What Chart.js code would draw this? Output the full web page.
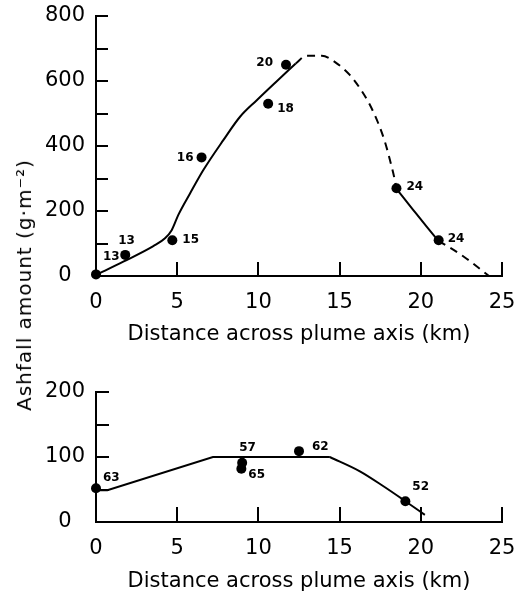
<!DOCTYPE html>
<html>
<head>
<meta charset="utf-8">
<script src="https://cdn.jsdelivr.net/npm/chart.js@4"></script>
<style>
  body { margin: 0; background: #fff; }
  #wrap { position: relative; width: 515px; height: 594px; overflow: hidden; }
  #topChart { position: absolute; left: 0; top: 0; }
  #bottomChart { position: absolute; left: 0; top: 350px; }
  #yTitle {
    position: absolute; left: 24px; top: 285px;
    transform: translate(-50%, -50%) rotate(-90deg);
    white-space: nowrap; font: 20px "DejaVu Sans"; letter-spacing: 1px; color: #000;
  }
</style>
</head>
<body>
<div id="wrap">
  <canvas id="topChart" width="515" height="350"></canvas>
  <canvas id="bottomChart" width="515" height="244"></canvas>
  <div id="yTitle">Ashfall amount (g·m⁻²)</div>
</div>
<script>
// upper panel: measured samples
const topX = [0, 1.8, 4.7, 6.5, 10.6, 11.7, 18.5, 21.1];
const topY = [5, 65, 110, 365, 530, 650, 270, 110];
const topLabels = ["13", "13", "15", "16", "18", "20", "24", "24"];

// upper panel: hand-drawn curve, solid and dashed pieces
const topCurve1X = [0, 1.68, 3.53, 4.25, 4.66, 5.07, 5.79, 6.61, 7.84, 8.87, 9.9, 11.1, 12.3];
const topCurve1Y = [3, 44, 92, 116, 141, 188, 254, 326, 418, 490, 541, 598, 654];
const topDash1X = [12.3, 12.97, 13.9, 14.7, 15.64, 16.26, 16.87, 17.38, 17.79, 18.1, 18.4, 18.5];
const topDash1Y = [654, 678, 678, 659, 618, 577, 526, 470, 413, 357, 295, 268];
const topCurve2X = [18.5, 19.54, 20.36, 21.08];
const topCurve2Y = [268, 203, 152, 108];
const topDash2X = [21.08, 21.7, 22.8, 24.2];
const topDash2Y = [108, 90, 54, 0];

// lower panel
const botX = [0, 9.0, 8.95, 12.5, 19.05];
const botY = [52, 91, 82, 109, 32];
const botLabels = ["63", "57", "65", "62", "52"];
const botLineX = [0, 0.7, 7.2, 14.4];
const botLineY = [49, 49, 100, 100];
const botCurveX = [14.4, 16.25, 17.7, 19.05, 20.25];
const botCurveY = [100, 78, 55, 32, 11];

// axes
const xTicks = [0, 5, 10, 15, 20, 25];
const xMarks = [5, 10, 15, 20, 25];
const topYTicks = [0, 200, 400, 600, 800];
const topYMarks = [100, 200, 300, 400, 500, 600, 700, 800];
const botYTicks = [0, 100, 200];
const botYMarks = [50, 100, 150, 200];

// label placement next to the dots (dx, dy, align)
const topLabelPos = [[7, -18, "left"], [-7, -14, "left"], [10, 0, "left"], [-8, 0, "right"],
  [9, 5, "left"], [-13, -2, "right"], [10, -1, "left"], [9, -1, "left"]];
const botLabelPos = [[7, -10, "left"], [-3, -15, "left"], [7, 6, "left"], [13, -4, "left"], [7, -14, "left"]];

Chart.defaults.font.family = "DejaVu Sans";
Chart.defaults.color = "#000";

function pts(xs, ys) {
  return xs.map((x, i) => ({ x: x, y: ys[i] }));
}

function lineSet(xs, ys, dashed, straight) {
  return {
    data: pts(xs, ys),
    showLine: true,
    borderColor: "#000",
    borderWidth: 2,
    borderDash: dashed ? [8, 6] : [],
    pointRadius: 0,
    tension: straight ? 0 : 0.4,
    cubicInterpolationMode: straight ? "default" : "monotone",
    clip: false,
  };
}

function dotSet(xs, ys) {
  return {
    data: pts(xs, ys),
    showLine: false,
    pointRadius: 5,
    pointBackgroundColor: "#000",
    pointBorderWidth: 0,
    clip: false,
  };
}

// tick marks pointing into the plot
const inwardTicks = {
  id: "inwardTicks",
  afterDatasetsDraw(chart, args, opts) {
    const ctx = chart.ctx;
    const xs = chart.scales.x;
    const ys = chart.scales.y;
    ctx.save();
    ctx.strokeStyle = "#000";
    ctx.lineWidth = 2;
    opts.yMarks.forEach(function (v) {
      const py = Math.round(ys.getPixelForValue(v));
      ctx.beginPath();
      ctx.moveTo(xs.left, py);
      ctx.lineTo(xs.left + opts.yLen, py);
      ctx.stroke();
    });
    opts.xMarks.forEach(function (v) {
      const px = Math.round(xs.getPixelForValue(v));
      ctx.beginPath();
      ctx.moveTo(px, ys.bottom);
      ctx.lineTo(px, ys.bottom - opts.xLen);
      ctx.stroke();
    });
    ctx.restore();
  },
};

// small numbers beside the dots
const dotLabels = {
  id: "dotLabels",
  afterDatasetsDraw(chart, args, opts) {
    const ctx = chart.ctx;
    const meta = chart.getDatasetMeta(opts.index);
    ctx.save();
    ctx.fillStyle = "#000";
    ctx.font = "bold 12px 'DejaVu Sans'";
    ctx.textBaseline = "middle";
    meta.data.forEach(function (p, i) {
      const pos = opts.pos[i];
      ctx.textAlign = pos[2];
      ctx.fillText(opts.labels[i], p.x + pos[0], p.y + pos[1]);
    });
    ctx.restore();
  },
};

function makeScales(yMax, yTickList, xHeight, titlePad) {
  return {
    x: {
      type: "linear",
      min: 0,
      max: 25,
      afterFit: function (s) {
        s.height = xHeight;
        s.paddingLeft = 0;
        s.paddingRight = 0;
      },
      afterBuildTicks: function (s) { s.ticks = xTicks.map(v => ({ value: v })); },
      grid: { display: false, drawTicks: false },
      border: { display: true, color: "#000", width: 2 },
      ticks: { font: { size: 21 }, padding: 14, maxRotation: 0 },
      title: {
        display: true,
        text: "Distance across plume axis (km)",
        font: { size: 21 },
        padding: { top: 0, bottom: titlePad },
      },
    },
    y: {
      type: "linear",
      min: 0,
      max: yMax,
      afterFit: function (s) {
        s.width = 96;
        s.paddingTop = 0;
        s.paddingBottom = 0;
      },
      afterBuildTicks: function (s) { s.ticks = yTickList.map(v => ({ value: v })); },
      grid: { display: false, drawTicks: false },
      border: { display: true, color: "#000", width: 2 },
      ticks: { font: { size: 21 }, padding: 11, crossAlign: "center" },
    },
  };
}

new Chart(document.getElementById("topChart").getContext("2d"), {
  type: "scatter",
  data: {
    datasets: [
      lineSet(topCurve1X, topCurve1Y, false, false),
      lineSet(topDash1X, topDash1Y, true, false),
      lineSet(topCurve2X, topCurve2Y, false, false),
      lineSet(topDash2X, topDash2Y, true, false),
      dotSet(topX, topY),
    ],
  },
  options: {
    responsive: false,
    animation: false,
    layout: { padding: { top: 16, right: 13, left: 0, bottom: 0 } },
    plugins: {
      legend: { display: false },
      tooltip: { enabled: false },
      inwardTicks: { yMarks: topYMarks, xMarks: xMarks, yLen: 12, xLen: 14 },
      dotLabels: { index: 4, labels: topLabels, pos: topLabelPos },
    },
    scales: makeScales(800, topYTicks, 74, 3),
  },
  plugins: [inwardTicks, dotLabels],
});

new Chart(document.getElementById("bottomChart").getContext("2d"), {
  type: "scatter",
  data: {
    datasets: [
      lineSet(botLineX, botLineY, false, true),
      lineSet(botCurveX, botCurveY, false, false),
      dotSet(botX, botY),
    ],
  },
  options: {
    responsive: false,
    animation: false,
    layout: { padding: { top: 42, right: 13, left: 0, bottom: 0 } },
    plugins: {
      legend: { display: false },
      tooltip: { enabled: false },
      inwardTicks: { yMarks: botYMarks, xMarks: xMarks, yLen: 13, xLen: 15 },
      dotLabels: { index: 2, labels: botLabels, pos: botLabelPos },
    },
    scales: makeScales(200, botYTicks, 72, 0),
  },
  plugins: [inwardTicks, dotLabels],
});
</script>
</body>
</html>
